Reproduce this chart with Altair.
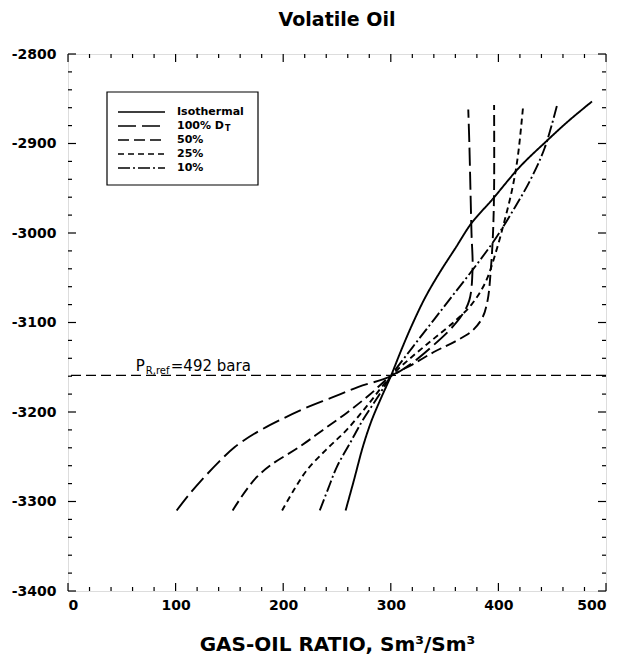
import altair as alt
import pandas as pd

# ---------------- data ----------------
series = ["Isothermal", "100% D", "50%", "25%", "10%"]

iso_gor = [258, 266, 274, 282, 290, 300, 310, 320, 332, 345, 360, 375, 394, 420, 445, 465, 487]
iso_dep = [-3310, -3275, -3239, -3210, -3187, -3160, -3130, -3102, -3072, -3045, -3017, -2989, -2963, -2926, -2897, -2875, -2853]

d100_gor = [101, 112, 125, 140, 155, 175, 197, 220, 245, 270, 300, 320, 340, 355, 366, 373, 376, 375, 374, 373, 372]
d100_dep = [-3310, -3293, -3275, -3256, -3239, -3223, -3209, -3196, -3184, -3172, -3160, -3145, -3125, -3108, -3092, -3075, -3040, -3000, -2950, -2900, -2862]

d50_gor = [153, 160, 167, 176, 190, 215, 237, 259, 280, 300, 320, 340, 360, 375, 385, 390, 393, 395, 396, 396]
d50_dep = [-3310, -3297, -3285, -3272, -3258, -3239, -3220, -3201, -3181, -3160, -3147, -3133, -3121, -3110, -3095, -3075, -3040, -3000, -2950, -2857]

d25_gor = [199, 210, 222, 240, 259, 280, 300, 320, 340, 360, 375, 388, 398, 406, 413, 418, 423]
d25_dep = [-3310, -3287, -3265, -3242, -3220, -3190, -3160, -3138, -3118, -3098, -3080, -3055, -3020, -2985, -2950, -2915, -2858]

d10_gor = [234, 242, 250, 262, 274, 287, 300, 320, 340, 360, 380, 398, 415, 430, 443, 455]
d10_dep = [-3310, -3285, -3261, -3235, -3209, -3185, -3160, -3128, -3097, -3066, -3035, -3005, -2972, -2940, -2905, -2855]

ref_depth = [-3159]
ref_label = ["P", "R,ref", "=492 bara"]

x_ticks = [0, 100, 200, 300, 400, 500]
y_ticks = [-2800, -2900, -3000, -3100, -3200, -3300, -3400]

# ---------------- layout ----------------
W, H = 538, 537
XMIN, XMAX = 0, 500
YMIN, YMAX = -3400, -2800
ux = (XMAX - XMIN) / W   # data units per px
uy = (YMAX - YMIN) / H
FONT = "DejaVu Sans"

rows = []
for name, g, d in zip(series, [iso_gor, d100_gor, d50_gor, d25_gor, d10_gor],
                      [iso_dep, d100_dep, d50_dep, d25_dep, d10_dep]):
    for i, (a, b) in enumerate(zip(g, d)):
        rows.append(dict(series=name, gor=a, depth=b, i=i))
curves = pd.DataFrame(rows)

xs = alt.Scale(domain=[XMIN, XMAX], nice=False, zero=False)
ys = alt.Scale(domain=[YMIN, YMAX], nice=False, zero=False)
dash_scale = alt.Scale(domain=series,
                       range=[[1, 0], [18, 6], [11, 5], [6, 4], [12, 3, 2, 3]])

X = alt.X("gor:Q", scale=xs,
          axis=alt.Axis(values=x_ticks, ticks=False, tickSize=0, domain=False, grid=False,
                        labelExpr="datum.value + ''",
                        labelFont=FONT, labelFontWeight="bold", labelFontSize=14,
                        labelColor="black", labelPadding=7,
                        title="GAS-OIL RATIO, Sm³/Sm³", titleFont=FONT,
                        titleFontWeight="bold", titleFontSize=20, titleColor="black",
                        titlePadding=22))
Y = alt.Y("depth:Q", scale=ys,
          axis=alt.Axis(values=y_ticks, ticks=False, tickSize=0, domain=False, grid=False,
                        labelExpr="datum.value + ''",
                        labelFont=FONT, labelFontWeight="bold", labelFontSize=14,
                        labelColor="black", labelPadding=12, title=None))

lines = alt.Chart(curves).mark_line(color="black", strokeWidth=1.9,
                                    interpolate="catmull-rom").encode(
    x=X, y=Y,
    strokeDash=alt.StrokeDash("series:N", scale=dash_scale, legend=None),
    order="i:Q",
)

# reference line
ref = alt.Chart(pd.DataFrame({"depth": ref_depth})).mark_rule(
    color="black", strokeWidth=1.3, strokeDash=[10, 5]).encode(y=alt.Y("depth:Q", scale=ys))

lab_x = 63
lab_y = ref_depth[0] + 4 * uy
ref_txt = pd.DataFrame({
    "t": ref_label,
    "gor": [lab_x, lab_x, lab_x],
    "depth": [lab_y, lab_y, lab_y],
})
lab_main1 = alt.Chart(ref_txt.iloc[[0]]).mark_text(
    font=FONT, fontSize=15, align="left", baseline="alphabetic", color="black").encode(
    x=alt.X("gor:Q", scale=xs), y=alt.Y("depth:Q", scale=ys), text="t:N")
lab_sub = alt.Chart(ref_txt.iloc[[1]]).mark_text(
    font=FONT, fontSize=10, align="left", baseline="alphabetic", color="black", dx=10, dy=3).encode(
    x=alt.X("gor:Q", scale=xs), y=alt.Y("depth:Q", scale=ys), text="t:N")
lab_main2 = alt.Chart(ref_txt.iloc[[2]]).mark_text(
    font=FONT, fontSize=15, align="left", baseline="alphabetic", color="black", dx=35).encode(
    x=alt.X("gor:Q", scale=xs), y=alt.Y("depth:Q", scale=ys), text="t:N")

# ---------------- legend (drawn inside the plot) ----------------
box_x0, box_x1 = 39 * ux, 190 * ux
box_y0, box_y1 = YMAX - 38 * uy, YMAX - 131 * uy
box = alt.Chart(pd.DataFrame({"a": [box_x0], "b": [box_x1], "c": [box_y0], "d": [box_y1]})).mark_rect(
    fill="white", stroke="black", strokeWidth=1.2).encode(
    x=alt.X("a:Q", scale=xs), x2="b:Q", y=alt.Y("c:Q", scale=ys), y2="d:Q")

leg = pd.DataFrame({
    "series": series,
    "x0": [50 * ux] * 5,
    "x1": [97 * ux] * 5,
    "tx": [109 * ux] * 5,
    "y": [YMAX - (58 + 14 * k) * uy for k in range(5)],
})
leg_lines = alt.Chart(leg).mark_rule(color="black", strokeWidth=1.6).encode(
    x=alt.X("x0:Q", scale=xs), x2="x1:Q", y=alt.Y("y:Q", scale=ys),
    strokeDash=alt.StrokeDash("series:N", scale=dash_scale, legend=None))
leg_text = alt.Chart(leg).mark_text(font=FONT, fontSize=11, fontWeight="bold", align="left",
                                    baseline="middle", color="black").encode(
    x=alt.X("tx:Q", scale=xs), y=alt.Y("y:Q", scale=ys), text="series:N")
leg_sub = alt.Chart(leg.iloc[[1]]).mark_text(font=FONT, fontSize=8, fontWeight="bold", align="left",
                                              baseline="middle", color="black", dx=48, dy=3).encode(
    x=alt.X("tx:Q", scale=xs), y=alt.Y("y:Q", scale=ys), text=alt.value("T"))

# ---------------- inward ticks on all four sides ----------------
minor_x = list(range(XMIN, XMAX + 1, 20))
minor_y = list(range(YMIN, YMAX + 1, 20))
tx = pd.DataFrame({"v": minor_x, "L": [8 if v % 100 == 0 else 4 for v in minor_x]})
ty = pd.DataFrame({"v": minor_y, "L": [8 if v % 100 == 0 else 4 for v in minor_y]})
tx["b0"], tx["b1"] = YMIN, YMIN + tx["L"] * uy
tx["t0"], tx["t1"] = YMAX, YMAX - tx["L"] * uy
ty["l0"], ty["l1"] = XMIN, XMIN + ty["L"] * ux
ty["r0"], ty["r1"] = XMAX, XMAX - ty["L"] * ux

tk = dict(color="black", strokeWidth=1.2)
ticks = [
    alt.Chart(tx).mark_rule(**tk).encode(x=alt.X("v:Q", scale=xs), y=alt.Y("b0:Q", scale=ys), y2="b1:Q"),
    alt.Chart(tx).mark_rule(**tk).encode(x=alt.X("v:Q", scale=xs), y=alt.Y("t0:Q", scale=ys), y2="t1:Q"),
    alt.Chart(ty).mark_rule(**tk).encode(y=alt.Y("v:Q", scale=ys), x=alt.X("l0:Q", scale=xs), x2="l1:Q"),
    alt.Chart(ty).mark_rule(**tk).encode(y=alt.Y("v:Q", scale=ys), x=alt.X("r0:Q", scale=xs), x2="r1:Q"),
]

chart = alt.layer(lines, *ticks, ref, lab_main1, lab_sub, lab_main2, box, leg_lines, leg_text, leg_sub).properties(
    width=W, height=H,
    title=alt.TitleParams("Volatile Oil", font=FONT, fontSize=19, fontWeight="bold",
                          color="black", offset=17, anchor="middle"),
    padding={"left": 3, "top": 3, "right": 0, "bottom": 0},
).configure_view(stroke="black", strokeWidth=1.5).configure(background="white")

chart.save("out.html", embed_options={"renderer": "svg", "actions": False})
